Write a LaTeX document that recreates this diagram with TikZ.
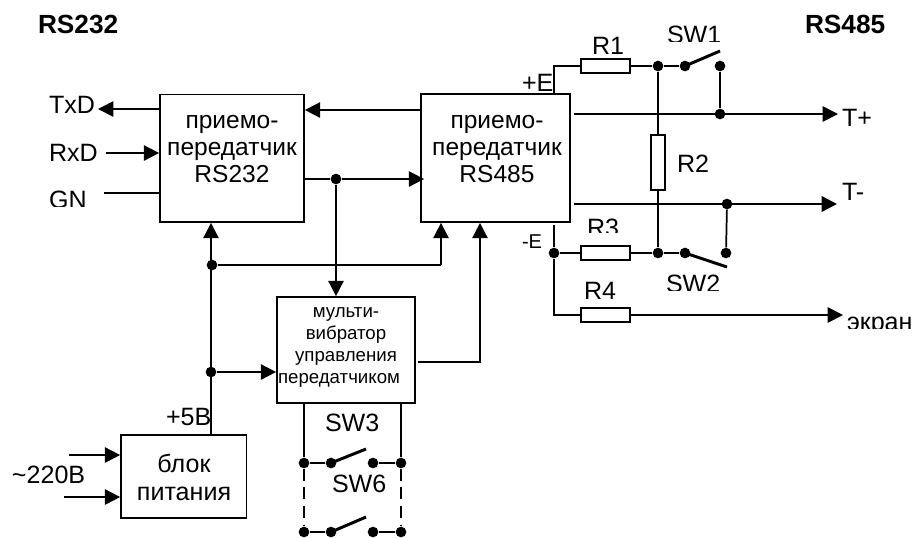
\documentclass[tikz,border=0pt]{standalone}
\usepackage{fontspec}
\setmainfont{Liberation Sans}
\usetikzlibrary{arrows.meta}
\tikzset{
  wire/.style={line width=1.3pt,line cap=butt},
  blade/.style={line width=2.2pt,line cap=butt},
  arr/.style={wire,-{Triangle[length=11.5pt,width=11.5pt]}},
  hv/.style={anchor=base west,inner sep=0,outer sep=0,font=\fontsize{18.8}{20}\selectfont},
  hb/.style={anchor=base west,inner sep=0,outer sep=0,font=\fontsize{19.7}{22}\bfseries},
  blk/.style={draw,line width=1.3pt,inner sep=0,fill=white},
  btxt/.style={align=center,inner sep=0,font=\fontsize{18.4}{20.6}\selectfont},
  mtxt/.style={align=center,inner sep=0,font=\fontsize{14}{16.5}\selectfont},
  res/.style={draw,line width=1.3pt,inner sep=0,fill=white},
  jn/.style={circle,fill=black,draw=none,inner sep=0,minimum size=8pt},
}
\begin{document}
\begin{tikzpicture}[x=0.75pt,y=-0.75pt]
\useasboundingbox (0,0) rectangle (913,537);
% blocks
\node[blk,minimum width=108pt,minimum height=95.6pt] (lb) at (232,158.3) {};
\node[blk,minimum width=111.75pt,minimum height=96pt] (rb) at (495.5,158) {};
\node[blk,minimum width=103.5pt,minimum height=79.5pt] (mv) at (346,350) {};
\node[blk,minimum width=94pt,minimum height=62.25pt] (ps) at (183.7,476.5) {};
\node[res,minimum width=36.75pt,minimum height=10.5pt] (r1) at (605.5,66) {};
\node[res,minimum width=10.5pt,minimum height=41.25pt] (r2) at (658,162.5) {};
\node[res,minimum width=36.75pt,minimum height=10.5pt] (r3) at (605.5,253) {};
\node[res,minimum width=36.75pt,minimum height=10.5pt] (r4) at (605.5,315) {};
% block texts
\node[btxt] (lbt) at (232,149) {приемо-\\передатчик\\RS232};
\node[btxt] (rbt) at (497,149) {приемо-\\передатчик\\RS485};
\node[mtxt] (mvt) at (346,347.5) {мульти-\\вибратор\\управления\\передатчиком\rule{10.5pt}{0pt}};
\node[btxt,font=\fontsize{18.8}{21}\selectfont] (pst) at (184,477) {блок\\питания};
% labels
\node[hb] (h1) at (38,33) {RS232};
\node[hb] (h2) at (805,33) {RS485};
\node[hv] (txd) at (49,113) {TxD};
\node[hv] (rxd) at (49,161) {RxD};
\begin{scope}\clip (40,180) rectangle (110,206);
\node[hv] (gn) at (49,208) {GN};
\end{scope}
\begin{scope}\clip (660,15) rectangle (730,41);
\node[hv] (sw1) at (667,43) {SW1};
\end{scope}
\begin{scope}\clip (660,265) rectangle (730,290);
\node[hv] (sw2) at (666,292) {SW2};
\end{scope}
\begin{scope}\clip (580,210) rectangle (630,232);
\node[hv] (lr3) at (587,236) {R3};
\end{scope}
\begin{scope}\clip (840,305) rectangle (913,328.5);
\node[hv] (ekr) at (847,330) {экран};
\end{scope}
\node[hv] (lr1) at (592,54) {R1};
\node[hv] (lr2) at (677,172) {R2};
\node[hv] (lr4) at (584,299) {R4};
\node[hv] (tp) at (842,126) {T+};
\node[hv] (tm) at (842,200) {T-};
\node[hv] (pe) at (522,91) {+E};
\node[hv,font=\fontsize{15}{17}\selectfont] (me) at (522,248) {-E};
\node[hv] (v5) at (166,425) {+5В};
\node[hv] (v220) at (12,483) {\char"007E 220В};
\node[hv] (sw3) at (325,431) {SW3};
\node[hv] (sw6) at (332,492) {SW6};
% junctions
\node[jn] (a1) at (336,179) {};
\node[jn] (a2) at (212,265) {};
\node[jn] (a3) at (211,372) {};
\node[jn] (b1) at (658,66) {};
\node[jn] (b2) at (685,66) {};
\node[jn] (b3) at (720,66) {};
\node[jn] (b4) at (720,114) {};
\node[jn] (c1) at (727,204) {};
\node[jn] (c2) at (726,253) {};
\node[jn] (c3) at (685,253) {};
\node[jn] (c4) at (658,253) {};
\node[jn] (c5) at (554,253) {};
\node[jn] (d1) at (304,463) {};
\node[jn] (d2) at (331,463) {};
\node[jn] (d3) at (373,463) {};
\node[jn] (d4) at (401,463) {};
\node[jn] (e1) at (304,532) {};
\node[jn] (e2) at (331,532) {};
\node[jn] (e3) at (373,532) {};
\node[jn] (e4) at (401,532) {};
% free ends
\coordinate (ftx) at (98,109);
\coordinate (frx) at (106,153);
\coordinate (fgn) at (104,193);
\coordinate (ft1) at (574,114);
\coordinate (ftp) at (838,114);
\coordinate (ft2) at (574,204);
\coordinate (ftm) at (837,204);
\coordinate (fek) at (843,315);
\coordinate (f1) at (69,455);
\coordinate (f2) at (64,497);
\coordinate (sb1) at (720,51);
\coordinate (sb2) at (727,267);
\coordinate (sb3) at (366,449);
\coordinate (sb4) at (366,517);
% connectors left
\draw[arr] (lb.west |- ftx) -- (ftx);
\draw[arr] (frx) -- (lb.west |- frx);
\draw[wire] (fgn) -- (lb.west |- fgn);
\draw[arr] (rb.west |- 0,110) -- (lb.east |- 0,110);
\draw[wire] (lb.east |- a1) -- (a1);
\draw[arr] (a1) -- ([xshift=3pt]rb.west |- a1);
\draw[arr] (a1) -- (a1 |- mv.north);
\draw[arr] (ps.north -| a3) -- (a3 |- lb.south);
\draw[wire] (a2) -- (441,265) coordinate (a4);
\draw[arr] (a4) -- (a4 |- rb.south);
\draw[arr] (a3) -- (mv.west |- a3);
\draw[arr] ([xshift=1.5pt]mv.east |- 0,362) -| (rb.south -| 480,0);
\draw[arr] (f1) -- (ps.west |- f1);
\draw[arr] (f2) -- (ps.west |- f2);
% switches below multivibrator
\draw[wire] (mv.south -| d1) -- (d1);
\draw[wire] (mv.south -| d4) -- (d4);
\draw[wire] (d1) -- (d2);
\draw[wire] (d3) -- (d4);
\draw[blade] (d2.center) -- (sb3);
\draw[wire,dash pattern=on 9pt off 5pt] (d1) -- (e1);
\draw[wire,dash pattern=on 9pt off 5pt] (d4) -- (e4);
\draw[wire] (e1) -- (e2);
\draw[wire] (e3) -- (e4);
\draw[blade] (e2.center) -- (sb4);
% connectors right
\draw[wire] (rb.north -| 554,0) |- (r1.west);
\draw[wire] (r1.east) -- (b1);
\draw[wire] (b1) -- (b2);
\draw[blade] (b2.center) -- (sb1);
\draw[wire] (b3) -- (b4);
\draw[arr] (ft1) -- (ftp);
\draw[wire] (b1) -- (r2.north);
\draw[wire] (r2.south) -- (c4);
\draw[arr,line width=1.7pt] (ft2) -- (ftm);
\draw[wire] (c1) -- (c2);
\draw[wire] (c5) -- (r3.west);
\draw[wire] (r3.east) -- (c4);
\draw[wire] (c4) -- (c3);
\draw[blade] (c3.center) -- (sb2);
\draw[wire] (rb.south -| c5) ++(0,2) -- (c5);
\draw[wire] (c5) |- (r4.west);
\draw[arr] (r4.east) -- (fek);
\end{tikzpicture}
\end{document}
